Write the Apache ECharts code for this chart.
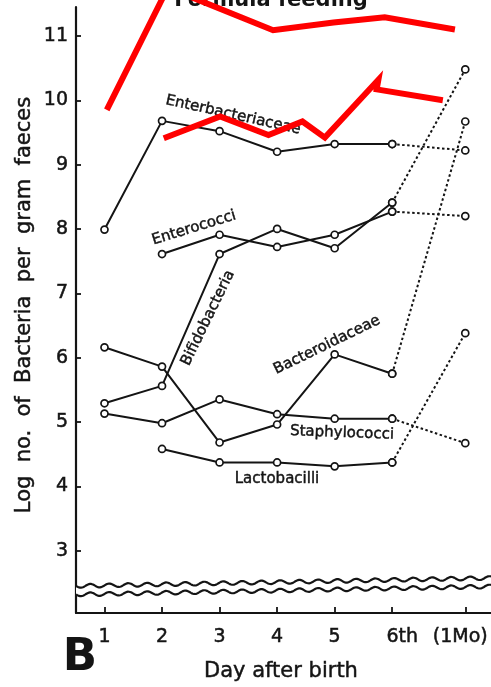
<!DOCTYPE html>
<html>
<head>
<meta charset="utf-8">
<script src="https://cdn.jsdelivr.net/npm/echarts@6/dist/echarts.min.js"></script>
<style>
  html, body { margin: 0; padding: 0; background: #fff; }
  #chart { width: 491px; height: 687px; }
</style>
</head>
<body>
<div id="chart"></div>
<script>
// x positions of the sampling days (1Mo sits a bit past day 7)
var dayPos = [1, 2, 3, 4, 5, 6, 7.27];
var dayLabels = ['1', '2', '3', '4', '5', '6th', '(1Mo)'];
var yTicks = [3, 4, 5, 6, 7, 8, 9, 10, 11];

// log counts, days 1-6 then 1 month (null = not measured)
var enterobacteriaceae = [7.99, 9.68, 9.52, 9.20, 9.32, 9.32, 9.22];
var enterococci        = [null, 7.61, 7.91, 7.72, 7.91, 8.27, 8.20];
var bifidobacteria     = [5.29, 5.56, 7.61, 8.00, 7.70, 8.41, 10.48];
var bacteroidaceae     = [6.16, 5.86, 4.68, 4.96, 6.05, 5.75, 9.67];
var staphylococci      = [5.13, 4.98, 5.35, 5.12, 5.05, 5.05, 4.67];
var lactobacilli       = [null, 4.58, 4.37, 4.37, 4.31, 4.37, 6.38];

// hand drawn red overlay lines [day, log count]
var redUpper = [[1.04, 9.85], [2.10, 11.75], [3.93, 11.09], [4.98, 11.21], [5.87, 11.29], [7.09, 11.10]];
var redLower = [[2.03, 9.41], [3.01, 9.75], [3.85, 9.46], [4.44, 9.67], [4.83, 9.42], [5.76, 10.32], [5.73, 10.17], [6.88, 10.00]];

var INK = '#141414';
var FONT = 'DejaVu Sans';

function solidPart(vals) {
  var out = [];
  for (var i = 0; i < 6; i++) {
    if (vals[i] != null) out.push([dayPos[i], vals[i]]);
  }
  return out;
}
function dottedPart(vals) {
  return [[dayPos[5], vals[5]], [dayPos[6], vals[6]]];
}

var dot = { color: '#fff', borderColor: INK, borderWidth: 1.7 };
var species = [enterobacteriaceae, enterococci, bifidobacteria, bacteroidaceae, staphylococci, lactobacilli];
var series = [];
species.forEach(function (vals) {
  series.push({
    type: 'line',
    data: dottedPart(vals),
    symbol: 'circle',
    symbolSize: 7,
    itemStyle: dot,
    lineStyle: { color: INK, width: 2, type: [2.5, 2.5] },
    silent: true
  });
  series.push({
    type: 'line',
    data: solidPart(vals),
    symbol: 'circle',
    symbolSize: 7,
    itemStyle: dot,
    lineStyle: { color: INK, width: 2 },
    silent: true
  });
});
[redUpper, redLower].forEach(function (d) {
  series.push({
    type: 'line',
    data: d,
    symbol: 'none',
    clip: false,
    z: 10,
    lineStyle: { color: '#ff0000', width: 6, cap: 'butt', join: 'miter' },
    silent: true
  });
});

// axis break: two wavy lines with white between them
function wave(offset) {
  var pts = [];
  for (var x = 76; x <= 491; x += 1) {
    var base = 586 - 8 * (x - 76) / 415 + offset;
    pts.push([x, base + 1.8 * Math.sin((x - 76) / 19 * 2 * Math.PI)]);
  }
  return pts;
}
var waveTop = wave(0);
var waveBot = wave(8.5);

function label(text, x, y, deg, size) {
  return {
    type: 'text', x: x, y: y, rotation: deg * Math.PI / 180, z: 5,
    style: {
      text: text, font: (size || 15) + 'px "' + FONT + '"', fill: INK,
      stroke: INK, lineWidth: 0.45, align: 'center', verticalAlign: 'middle'
    }
  };
}

var tickFont = { fontFamily: FONT, fontSize: 19, color: INK, textBorderColor: INK, textBorderWidth: 0.5 };

var chart = echarts.init(document.getElementById('chart'), null, { renderer: 'canvas' });
chart.setOption({
  backgroundColor: '#fff',
  animation: false,
  grid: { left: 76, right: 0, top: 7, bottom: 74 },
  xAxis: {
    type: 'value',
    min: 0.505,
    max: 7.717,
    splitLine: { show: false },
    axisLine: { lineStyle: { color: INK, width: 2.2 } },
    axisTick: { inside: true, length: 6, customValues: dayPos, lineStyle: { color: INK, width: 1.8 } },
    axisLabel: Object.assign({
      customValues: dayPos,
      margin: 15,
      formatter: function (v) {
        var i = dayPos.indexOf(v);
        if (i === 5) return '{six|' + dayLabels[i] + '}';
        if (i === 6) return '{mo|' + dayLabels[i] + '}';
        return i >= 0 ? dayLabels[i] : '';
      },
      rich: {
        six: Object.assign({ padding: [0, 0, 0, 20] }, tickFont),
        mo: Object.assign({ padding: [0, 10, 0, 0] }, tickFont)
      }
    }, tickFont)
  },
  yAxis: {
    type: 'value',
    min: 2.03,
    max: 11.45,
    splitLine: { show: false },
    axisLine: { show: true, lineStyle: { color: INK, width: 2.2 } },
    axisTick: { show: true, inside: true, length: 5, customValues: yTicks, lineStyle: { color: INK, width: 1.8 } },
    axisLabel: Object.assign({ customValues: yTicks, margin: 8 }, tickFont)
  },
  graphic: [
    {
      type: 'polygon', z: 50, silent: true,
      shape: { points: waveTop.concat(waveBot.slice().reverse()) },
      style: { fill: '#fff', stroke: null }
    },
    { type: 'polyline', z: 51, silent: true, shape: { points: waveTop }, style: { stroke: INK, lineWidth: 2.2, fill: null } },
    { type: 'polyline', z: 51, silent: true, shape: { points: waveBot }, style: { stroke: INK, lineWidth: 2.2, fill: null } },
    {
      type: 'text', x: 271, y: 1, z: 5,
      style: { text: 'Formula feeding', font: 'bold 21px "' + FONT + '"', fill: INK, align: 'center', verticalAlign: 'middle' }
    },
    label('Log  no.  of  Bacteria  per  gram  faeces', 25, 305, 90, 21),
    label('Day after birth', 281, 672, 0, 21),
    {
      type: 'text', x: 80, y: 658, z: 5,
      style: { text: 'B', font: 'bold 45px "' + FONT + '"', fill: INK, align: 'center', verticalAlign: 'middle' }
    },
    label('Enterbacteriaceae', 233, 115, -12.5),
    label('Enterococci', 194, 228, 17),
    label('Bifidobacteria', 208, 318, 64),
    label('Bacteroidaceae', 327, 345, 26),
    label('Staphylococci', 342, 433, -2),
    label('Lactobacilli', 277, 479, 0)
  ],
  series: series
});
</script>
</body>
</html>
